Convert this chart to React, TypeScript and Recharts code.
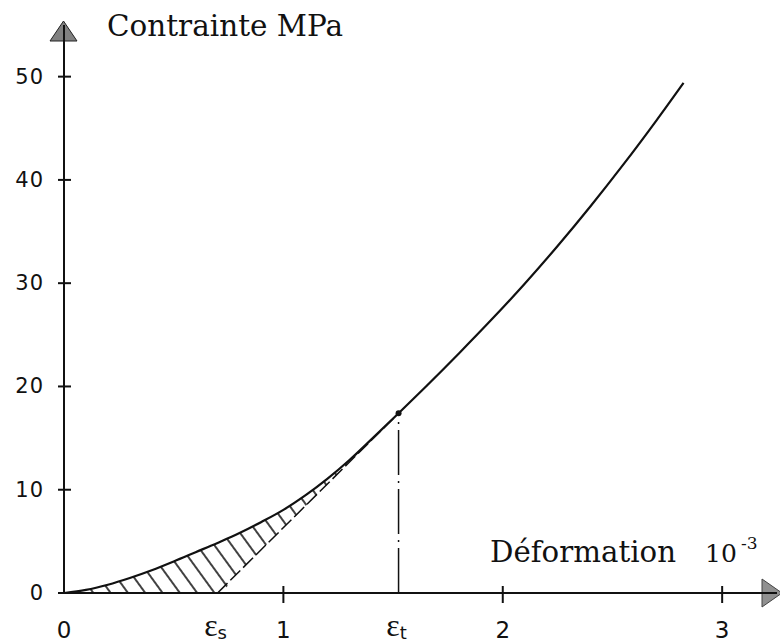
import React from 'react';
import {
    ComposedChart,
    Line,
    Area,
    XAxis,
    YAxis,
    ReferenceLine,
    ReferenceDot,
} from 'recharts';

// strain (10^-3) and stress (MPa)
const strain = [0, 0.1, 0.2, 0.3, 0.4, 0.5, 0.6, 0.7, 0.8, 0.9, 1.0, 1.1, 1.2, 1.3, 1.4, 1.525, 1.65, 1.8, 1.95, 2.1, 2.25, 2.4, 2.55, 2.7, 2.824];
const stress = [0, 0.3, 0.8, 1.45, 2.2, 3.05, 3.95, 4.85, 5.8, 6.88, 8.05, 9.45, 11.05, 12.85, 14.85, 17.4, 20.0, 23.2, 26.5, 29.95, 33.6, 37.45, 41.5, 45.75, 49.4];
// lower edge of the hatched zone (x axis, then the dashed tangent)
const hatchLow = [0, 0, 0, 0, 0, 0, 0, 0, 2.1, 4.2, 6.3, 8.4, 10.5, 12.65, 14.8, 17.4];

const epsS = 0.7;
const epsT = 1.525;
const stressT = 17.4;
const tangent = [
    { x: epsS, t: 0 },
    { x: epsT, t: stressT },
];

const xTicks = [0, epsS, 1, epsT, 2, 3];
const xTickLabels = ['0', 's', '1', 't', '2', '3'];
const yTicks = [0, 10, 20, 30, 40, 50];

const data = strain.map((x, i) => ({
    x,
    stress: stress[i],
    band: i < hatchLow.length ? [hatchLow[i], stress[i]] : undefined,
}));

const YTick = (props: any) => {
    const { x, y, payload } = props;
    const v = payload.value;
    return (
        <g>
            <line x1={x - 6} x2={v === 0 ? x : x + 7} y1={y} y2={y} stroke="#111" strokeWidth={2} />
            <text x={x - 20} y={y} textAnchor="end" dominantBaseline="central"
                fontFamily="DejaVu Sans" fontSize={21} letterSpacing={1} fill="#111">
                {v}
            </text>
        </g>
    );
};

const XTick = (props: any) => {
    const { x, y, payload } = props;
    const v = payload.value;
    const label = xTickLabels[xTicks.indexOf(v)];
    if (v === epsS || v === epsT) {
        return (
            <text x={x - 2} y={y + 43} textAnchor="middle" fill="#111">
                <tspan fontFamily="Liberation Serif" fontSize={32}>ε</tspan>
                <tspan fontFamily="DejaVu Sans" fontSize={18} dy={3}>{label}</tspan>
            </text>
        );
    }
    return (
        <g>
            {v !== 0 && <line x1={x} x2={x} y1={y - 7} y2={y + 10} stroke="#111" strokeWidth={2} />}
            <text x={x} y={y + 45} textAnchor="middle" fontFamily="DejaVu Sans" fontSize={23} fill="#111">
                {label}
            </text>
        </g>
    );
};

export default function App() {
    return (
        <div style={{ position: 'absolute', left: 0, top: 0, background: '#fff' }}>
            <ComposedChart
                width={780}
                height={644}
                data={data}
                margin={{ top: 25, right: 3, left: 4, bottom: 0 }}
            >
                <defs>
                    <pattern id="hatch" patternUnits="userSpaceOnUse" width={14} height={14} patternTransform="rotate(-36)">
                        <line x1={7} y1={0} x2={7} y2={14} stroke="#111" strokeWidth={1.6} />
                    </pattern>
                </defs>
                <XAxis
                    dataKey="x"
                    type="number"
                    domain={[0, 3.25]}
                    ticks={xTicks}
                    interval={0}
                    height={51}
                    tickSize={0}
                    tickMargin={0}
                    tickLine={false}
                    axisLine={{ stroke: '#111', strokeWidth: 2 }}
                    tick={<XTick />}
                    allowDataOverflow
                />
                <YAxis
                    type="number"
                    domain={[0, 55]}
                    ticks={yTicks}
                    interval={0}
                    width={60}
                    tickSize={0}
                    tickMargin={0}
                    tickLine={false}
                    axisLine={{ stroke: '#111', strokeWidth: 2 }}
                    tick={<YTick />}
                    allowDataOverflow
                />
                <Area
                    dataKey="band"
                    type="monotone"
                    stroke="none"
                    fill="url(#hatch)"
                    fillOpacity={1}
                    isAnimationActive={false}
                    connectNulls={false}
                />
                <Line
                    data={tangent}
                    dataKey="t"
                    type="linear"
                    stroke="#111"
                    strokeWidth={1.5}
                    strokeDasharray="14 4"
                    dot={false}
                    isAnimationActive={false}
                />
                <ReferenceLine
                    segment={[{ x: epsT, y: 0 }, { x: epsT, y: stressT }]}
                    stroke="#111"
                    strokeWidth={1.5}
                    strokeDasharray="45 6 2 6"
                />
                <Line
                    dataKey="stress"
                    type="monotone"
                    stroke="#111"
                    strokeWidth={2.2}
                    dot={false}
                    isAnimationActive={false}
                />
                <ReferenceDot x={epsT} y={stressT} r={3} fill="#111" stroke="none" />
                {/* axis arrows */}
                <polygon points="50,41 77,41 63.5,21" fill="#808080" stroke="#222" strokeWidth={1} />
                <polygon points="762,579 762,607 782,593" fill="#909090" stroke="#444" strokeWidth={1} />
                {/* axis titles */}
                <text x={107} y={36} fontFamily="DejaVu Serif" fontSize={29} textLength={236}
                    lengthAdjust="spacingAndGlyphs" fill="#111">
                    Contrainte MPa
                </text>
                <text x={490} y={562} fontFamily="DejaVu Serif" fontSize={29} textLength={186}
                    lengthAdjust="spacingAndGlyphs" fill="#111">
                    Déformation
                </text>
                <text x={705} y={562} fontFamily="DejaVu Serif" fontSize={25} fill="#111">
                    10
                </text>
                <text x={741} y={549} fontFamily="DejaVu Serif" fontSize={17} fill="#111">
                    -3
                </text>
            </ComposedChart>
        </div>
    );
}
